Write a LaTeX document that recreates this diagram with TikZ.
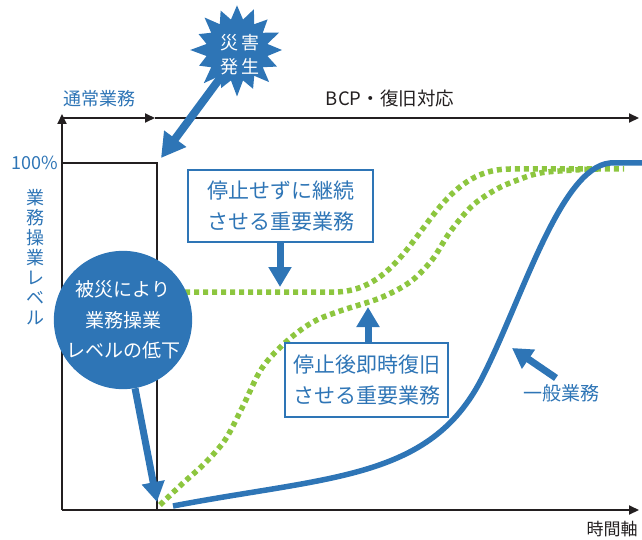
\documentclass[tikz,border=0pt]{standalone}
\usepackage{fontspec}
\setmainfont{Noto Sans CJK JP}
\usetikzlibrary{arrows.meta}
\definecolor{bcpblue}{RGB}{46,117,182}
\definecolor{bcpgreen}{RGB}{141,198,63}
\definecolor{axisk}{RGB}{35,31,32}
\begin{document}
\begin{tikzpicture}[x=1pt,y=-1pt,
  axisline/.style={draw=axisk, line width=2pt},
  axisarrow/.style={axisline, -{Triangle[length=10pt,width=9pt]}},
  bluearrow/.style={draw=bcpblue, line width=7pt, -{Triangle[length=20pt,width=22pt]}},
  labelbox/.style={draw=bcpblue, line width=2.5pt, fill=white, text=bcpblue, align=left, inner sep=0pt, font=\fontsize{21}{31}\selectfont},
  bluetext/.style={text=bcpblue, inner sep=0pt},
  darktext/.style={text=axisk, inner sep=0pt},
  greendot/.style={draw=bcpgreen, line width=5.5pt, dash pattern=on 5pt off 4pt},
  bluecurve/.style={draw=bcpblue, line width=5.5pt},
  ]
\useasboundingbox (0,0) rectangle (642,540);

% axes
\coordinate (O) at (62,510);
\coordinate (Ytop) at (62,114);
\coordinate (Xend) at (639,510);
\coordinate (Tl) at (62,118);
\coordinate (Tm) at (155,118);
\coordinate (Tr) at (639,118);
\coordinate (RectTL) at (62,163);
\coordinate (RectTR) at (157,163);
\coordinate (RectBR) at (157,510);
\draw[axisarrow] (O) -- (Ytop);
\draw[axisarrow] (O) -- (Xend);
\draw[axisarrow] (Tl) -- (Tm);
\draw[axisarrow] (Tm) -- (Tr);
\draw[axisline] (RectTL) -- (RectTR) -- (RectBR);

% labels on axes
\node[bluetext, font=\fontsize{18}{20}\selectfont] (normal) at (99,99) {通常業務};
\node[darktext, font=\fontsize{18.5}{20}\selectfont] (bcp) at (390,98) {BCP・復旧対応};
\node[bluetext, anchor=east, font=\fontsize{18}{20}\selectfont] (pct) at (58,163) {100\%};
\node[bluetext, align=center, font=\fontsize{18}{20}\selectfont] (ylab) at (35,257) {業\\務\\操\\業\\レ\\ベ\\ル};
\node[darktext, font=\fontsize{17}{20}\selectfont] (tlab) at (612,529) {時間軸};

% curves
\draw[greendot] (158,292) -- (335,292) .. controls (418,291) and (425,169) .. (510,169) -- (624,169);
\draw[greendot] plot[smooth, tension=0.55] coordinates {(160,505) (182,484) (204,464) (225,440) (243,406) (262,368) (287,341) (313,322) (340,311) (380,298) (410,282) (432,260) (450,232) (472,206) (495,190) (515,181) (540,173) (575,170) (598,169)};
\draw[bluecurve] (173,506) .. controls (330,476) and (430,480) .. (482,378) .. controls (522,300) and (560,168) .. (610,163) -- (643,163);

% label boxes
\node[labelbox, minimum width=185pt, minimum height=72pt] (keep) at (280.5,206) {停止せずに継続\\させる重要業務};
\node[labelbox, minimum width=163pt, minimum height=74pt] (restore) at (366.5,380) {停止後即時復旧\\させる重要業務};
\coordinate (keepTip) at (280,287);
\coordinate (restoreTip) at (368,307);
\draw[bluearrow] (keep.south -| keepTip) -- (keepTip);
\draw[bluearrow] (restore.north -| restoreTip) -- (restoreTip);

% general business
\node[bluetext, font=\fontsize{19}{20}\selectfont] (general) at (561,393) {一般業務};
\coordinate (genStart) at (556,378);
\coordinate (genTip) at (512,348);
\draw[bluearrow] (genStart) -- (genTip);

% damage circle
\node[circle, fill=bcpblue, minimum size=138pt, inner sep=0pt, text=white, align=center, font=\fontsize{19}{30.5}\selectfont] (hit) at (123,320) {被災により\\業務操業\\レベルの低下};
\coordinate (hitTip) at (157,502);
\draw[bluearrow] (hit.-80) -- (hitTip);

% starburst
\coordinate (burstc) at (232,62);
\coordinate (burstTip) at (161,158);
\draw[bluearrow, line width=8pt, -{Triangle[length=24pt,width=26pt]}] (burstc) -- (burstTip);
\fill[bcpblue, shift={(237,50)}] (0:45) \foreach \k in {1,...,31} { -- ({\k*11.25}:{ifthenelse(isodd(\k),31,44+3*sin(\k*97))}) } -- cycle;
\node[text=white, align=center, inner sep=0pt, font=\fontsize{18}{24}\selectfont] (burst) at (240,55) {災\hspace{4pt}害\\発\hspace{4pt}生};
\end{tikzpicture}
\end{document}
